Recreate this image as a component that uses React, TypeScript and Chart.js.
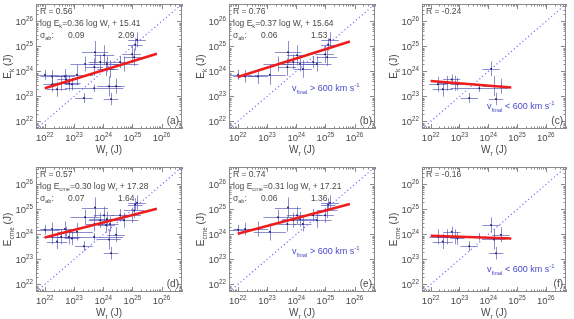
import React, { useEffect, useRef } from "react";
import { Chart, registerables } from "chart.js";
Chart.register(...registerables);

// ---------- data (log10 of joules) ----------
const axisMinLog = 21.7;
const axisMaxLog = 26.7;
const tickExps = [22, 23, 24, 25, 26];

// fast CMEs (v_final > 600 km/s)
const fastLogW = [22.01, 22.25, 22.69, 23.1, 23.38, 23.72, 23.7, 23.9, 24.03, 24.13, 24.23, 24.58, 24.71, 24.99, 25.06, 25.1, 25.16];
const fastLogWErr = [0.5, 0.4, 0.35, 0.55, 0.5, 0.45, 0.3, 0.4, 0.35, 0.6, 0.3, 0.3, 0.5, 0.3, 0.35, 0.25, 0.3];
const fastLogEk = [23.87, 23.8, 23.8, 23.87, 24.3, 24.77, 24.18, 24.38, 24.65, 24.3, 24.1, 24.38, 24.3, 24.69, 24.57, 25.08, 25.27];
const fastLogEkErr = [0.2, 0.25, 0.3, 0.4, 0.3, 0.45, 0.35, 0.3, 0.4, 0.3, 0.35, 0.25, 0.3, 0.35, 0.35, 0.25, 0.3];
const fastLogEcme = [24.19, 24.22, 24.22, 24.11, 24.69, 25.08, 24.42, 24.57, 24.77, 24.61, 24.42, 24.77, 24.57, 24.77, 24.96, 25.2, 25.27];
const fastLogEcmeErr = [0.2, 0.25, 0.3, 0.35, 0.3, 0.4, 0.3, 0.3, 0.35, 0.3, 0.3, 0.25, 0.3, 0.3, 0.3, 0.25, 0.3];

// slow CMEs (v_final < 600 km/s)
const slowLogW = [22.25, 22.42, 22.56, 22.73, 22.83, 22.93, 23.34, 23.69, 24.1, 24.2, 24.27, 24.44];
const slowLogWErr = [0.3, 0.35, 0.3, 0.3, 0.4, 0.25, 0.3, 1.0, 0.3, 0.4, 0.25, 0.3];
const slowLogEk = [23.49, 23.29, 23.53, 23.68, 23.53, 23.49, 22.94, 23.33, 24.11, 23.41, 22.9, 23.41];
const slowLogEkErr = [0.3, 0.3, 0.3, 0.2, 0.3, 0.25, 0.2, 0.15, 0.3, 0.4, 0.25, 0.3];
const slowLogEcme = [23.91, 23.72, 23.91, 24.11, 23.91, 23.84, 23.53, 23.91, 24.38, 23.8, 23.25, 23.99];
const slowLogEcmeErr = [0.3, 0.3, 0.3, 0.2, 0.3, 0.25, 0.2, 0.15, 0.3, 0.4, 0.25, 0.3];

// fit lines: endpoints (log x, log y)
const fitA = { x: [22.0, 25.84], y: [23.33, 24.71] };
const fitB = { x: [22.0, 25.84], y: [23.78, 25.2] };
const fitC = { x: [22.0, 24.8], y: [23.62, 23.36] };
const fitD = { x: [22.0, 25.84], y: [23.88, 25.03] };
const fitE = { x: [22.0, 25.84], y: [24.03, 25.22] };
const fitF = { x: [22.0, 24.8], y: [23.95, 23.84] };

const rValues = ["0.56", "0.76", "-0.24", "0.57", "0.74", "-0.16"];
const slopes = ["0.36", "0.37", "", "0.30", "0.31", ""];
const intercepts = ["15.41", "15.64", "", "17.28", "17.21", ""];
const sigmaSlope = ["0.09", "0.06", "", "0.07", "0.06", ""];
const sigmaIntercept = ["2.09", "1.53", "", "1.64", "1.36", ""];
const letters = ["(a)", "(b)", "(c)", "(d)", "(e)", "(f)"];

// ---------- styling ----------
const FONT = "'Liberation Sans', Arial, sans-serif";
const TEXT = "#4a4a4a";
const FRAME = "#8a8a8a";
const ERR = "rgba(72,72,175,0.62)";
const PT = "#23237a";
const VBLUE = "#4a4ac8";

type Seg = [string, number]; // 0 normal, 1 sub, 2 sup

function segFont(size: number, mode: number) {
  const s = mode === 0 ? size : size * 0.66;
  return `${s}px ${FONT}`;
}
function richWidth(ctx: CanvasRenderingContext2D, segs: Seg[], size: number) {
  let w = 0;
  for (const [t, m] of segs) {
    ctx.font = segFont(size, m);
    w += ctx.measureText(t).width;
  }
  return w;
}
function drawRich(ctx: CanvasRenderingContext2D, segs: Seg[], x: number, y: number, size: number, align: string, color: string) {
  const w = richWidth(ctx, segs, size);
  let cx = align === "center" ? x - w / 2 : align === "right" ? x - w : x;
  ctx.fillStyle = color;
  ctx.textAlign = "left";
  ctx.textBaseline = "alphabetic";
  for (const [t, m] of segs) {
    ctx.font = segFont(size, m);
    const dy = m === 1 ? size * 0.28 : m === 2 ? -size * 0.42 : 0;
    ctx.fillText(t, cx, y + dy);
    cx += ctx.measureText(t).width;
  }
}

type Pt = { x: number; y: number; xe: number; ye: number };
function buildPoints(w: number[], we: number[], e: number[], ee: number[]): Pt[] {
  return w.map((v, i) => ({ x: v, y: e[i], xe: we[i], ye: ee[i] }));
}

const ptsFastK = buildPoints(fastLogW, fastLogWErr, fastLogEk, fastLogEkErr);
const ptsSlowK = buildPoints(slowLogW, slowLogWErr, slowLogEk, slowLogEkErr);
const ptsFastC = buildPoints(fastLogW, fastLogWErr, fastLogEcme, fastLogEcmeErr);
const ptsSlowC = buildPoints(slowLogW, slowLogWErr, slowLogEcme, slowLogEcmeErr);

type PanelCfg = {
  idx: number;
  col: number;
  row: number;
  pts: Pt[];
  fit: { x: number[]; y: number[] };
  ysub: string;
  vlabel: "" | ">" | "<";
};

const panels: PanelCfg[] = [
  { idx: 0, col: 0, row: 0, pts: [...ptsFastK, ...ptsSlowK], fit: fitA, ysub: "k", vlabel: "" },
  { idx: 1, col: 1, row: 0, pts: ptsFastK, fit: fitB, ysub: "k", vlabel: ">" },
  { idx: 2, col: 2, row: 0, pts: ptsSlowK, fit: fitC, ysub: "k", vlabel: "<" },
  { idx: 3, col: 0, row: 1, pts: [...ptsFastC, ...ptsSlowC], fit: fitD, ysub: "cme", vlabel: "" },
  { idx: 4, col: 1, row: 1, pts: ptsFastC, fit: fitE, ysub: "cme", vlabel: ">" },
  { idx: 5, col: 2, row: 1, pts: ptsSlowC, fit: fitF, ysub: "cme", vlabel: "<" },
];

const colLeft = [0, 193, 386];
const colWidth = [193, 193, 188];
const plotWidth = [146, 146, 144];
const rowTop = [0, 163];
const rowHeight = [163, 156];
const PAD_LEFT = 36;
const PAD_TOP = 1;
const PLOT_H = 128;

function Panel({ cfg }: { cfg: PanelCfg }) {
  const ref = useRef<HTMLCanvasElement>(null);
  const W = colWidth[cfg.col];
  const H = rowHeight[cfg.row];
  useEffect(() => {
    const canvas = ref.current!;
    const min = Math.pow(10, axisMinLog);
    const max = Math.pow(10, axisMaxLog);
    const i = cfg.idx;

    const decor = {
      id: "decor" + i,
      beforeDatasetsDraw(chart: any) {
        const ctx = chart.ctx as CanvasRenderingContext2D;
        const { left, right, top, bottom } = chart.chartArea;
        const xs = chart.scales.x, ys = chart.scales.y;
        ctx.save();
        ctx.beginPath();
        ctx.rect(left, top, right - left, bottom - top);
        ctx.clip();
        ctx.strokeStyle = ERR;
        ctx.lineWidth = 1;
        for (const p of cfg.pts) {
          const px = xs.getPixelForValue(Math.pow(10, p.x));
          const py = ys.getPixelForValue(Math.pow(10, p.y));
          const x0 = xs.getPixelForValue(Math.pow(10, p.x - p.xe));
          const x1 = xs.getPixelForValue(Math.pow(10, p.x + p.xe));
          const y0 = ys.getPixelForValue(Math.pow(10, p.y - p.ye));
          const y1 = ys.getPixelForValue(Math.pow(10, p.y + p.ye));
          ctx.beginPath();
          ctx.moveTo(x0, Math.round(py) + 0.5);
          ctx.lineTo(x1, Math.round(py) + 0.5);
          ctx.moveTo(Math.round(px) + 0.5, y0);
          ctx.lineTo(Math.round(px) + 0.5, y1);
          ctx.stroke();
        }
        ctx.restore();
      },
      afterDraw(chart: any) {
        const ctx = chart.ctx as CanvasRenderingContext2D;
        const { left, right, top, bottom } = chart.chartArea;
        const xs = chart.scales.x, ys = chart.scales.y;
        ctx.save();
        // frame
        ctx.strokeStyle = FRAME;
        ctx.lineWidth = 1;
        ctx.strokeRect(Math.round(left) + 0.5, Math.round(top) + 0.5, Math.round(right - left) - 1, Math.round(bottom - top) - 1);
        // ticks
        ctx.beginPath();
        for (let e = 21; e <= 26; e++) {
          for (let k = 1; k <= 9; k++) {
            const v = k * Math.pow(10, e);
            if (v < min * 0.999 || v > max * 1.001) continue;
            const len = k === 1 ? 5 : 2.5;
            const px = Math.round(xs.getPixelForValue(v)) + 0.5;
            ctx.moveTo(px, bottom);
            ctx.lineTo(px, bottom - len);
            ctx.moveTo(px, top);
            ctx.lineTo(px, top + len);
            const py = Math.round(ys.getPixelForValue(v)) + 0.5;
            ctx.moveTo(left, py);
            ctx.lineTo(left + len, py);
            ctx.moveTo(right, py);
            ctx.lineTo(right - len, py);
          }
        }
        ctx.stroke();
        // tick labels
        for (const e of tickExps) {
          const v = Math.pow(10, e);
          const px = xs.getPixelForValue(v);
          drawRich(ctx, [["10", 0], [String(e), 2]], px, bottom + 12, 9.5, "center", TEXT);
          const py = ys.getPixelForValue(v);
          drawRich(ctx, [["10", 0], [String(e), 2]], left - 3, py + 3.5, 9.5, "right", TEXT);
        }
        // axis titles
        drawRich(ctx, [["W", 0], ["r", 1], [" (J)", 0]], (left + right) / 2, bottom + 24, 10, "center", TEXT);
        ctx.save();
        ctx.translate(left - 25, (top + bottom) / 2);
        ctx.rotate(-Math.PI / 2);
        drawRich(ctx, [["E", 0], [cfg.ysub, 1], [" (J)", 0]], 0, 0, 10, "center", TEXT);
        ctx.restore();
        // annotations
        const tx = left + 4;
        drawRich(ctx, [["R = " + rValues[i], 0]], tx, top + 10, 8.5, "left", TEXT);
        if (slopes[i]) {
          drawRich(ctx, [["log E", 0], [cfg.ysub, 1], ["=" + slopes[i] + " log W", 0], ["r", 1], [" + " + intercepts[i], 0]], tx, top + 22, 8.5, "left", TEXT);
          drawRich(ctx, [["σ", 0], ["ab", 1], [":", 0]], tx, top + 34, 8.5, "left", TEXT);
          drawRich(ctx, [[sigmaSlope[i], 0]], left + 32, top + 34, 8.5, "left", TEXT);
          drawRich(ctx, [[sigmaIntercept[i], 0]], left + 82, top + 34, 8.5, "left", TEXT);
        }
        if (cfg.vlabel === ">") {
          drawRich(ctx, [["v", 0], ["final", 1], [" > 600 km s", 0], ["-1", 2]], left + 63, top + 87, 9, "left", VBLUE);
        } else if (cfg.vlabel === "<") {
          drawRich(ctx, [["v", 0], ["final", 1], [" < 600 km s", 0], ["-1", 2]], left + 65, top + 105, 9, "left", VBLUE);
        }
        drawRich(ctx, [[letters[i], 0]], right - 3, bottom - 5, 10, "right", TEXT);
        ctx.restore();
      },
    };

    const chart = new Chart(canvas, {
      type: "scatter",
      data: {
        datasets: [
          {
            type: "line",
            data: [
              { x: min, y: min },
              { x: max, y: max },
            ],
            borderColor: "#6d6dff",
            borderWidth: 1.2,
            borderDash: [1.2, 2.6],
            pointRadius: 0,
            fill: false,
            order: 3,
          } as any,
          {
            type: "scatter",
            data: cfg.pts.map((p) => ({ x: Math.pow(10, p.x), y: Math.pow(10, p.y) })),
            pointRadius: 1,
            pointBorderWidth: 0,
            backgroundColor: PT,
            borderColor: PT,
            order: 2,
          } as any,
          {
            type: "line",
            data: cfg.fit.x.map((x, k) => ({ x: Math.pow(10, x), y: Math.pow(10, cfg.fit.y[k]) })),
            borderColor: "#ee1c1c",
            borderWidth: 2.4,
            pointRadius: 0,
            fill: false,
            order: 1,
          } as any,
        ],
      },
      options: {
        animation: false,
        responsive: false,
        devicePixelRatio: 1,
        events: [],
        layout: {
          padding: {
            left: PAD_LEFT,
            top: PAD_TOP,
            right: W - PAD_LEFT - plotWidth[cfg.col],
            bottom: H - PAD_TOP - PLOT_H,
          },
        },
        plugins: { legend: { display: false }, tooltip: { enabled: false } },
        scales: {
          x: { type: "logarithmic", min, max, display: false },
          y: { type: "logarithmic", min, max, display: false },
        },
      },
      plugins: [decor],
    } as any);
    return () => chart.destroy();
  }, []);
  return (
    <canvas
      ref={ref}
      width={W}
      height={H}
      style={{ position: "absolute", left: colLeft[cfg.col], top: rowTop[cfg.row], width: W, height: H }}
    />
  );
}

export default function App() {
  return (
    <>
      <style>{`body{margin:0;background:#fff}`}</style>
      <div style={{ position: "relative", width: 574, height: 319, overflow: "hidden", background: "#fff" }}>
        {panels.map((p) => (
          <Panel key={p.idx} cfg={p} />
        ))}
      </div>
    </>
  );
}
